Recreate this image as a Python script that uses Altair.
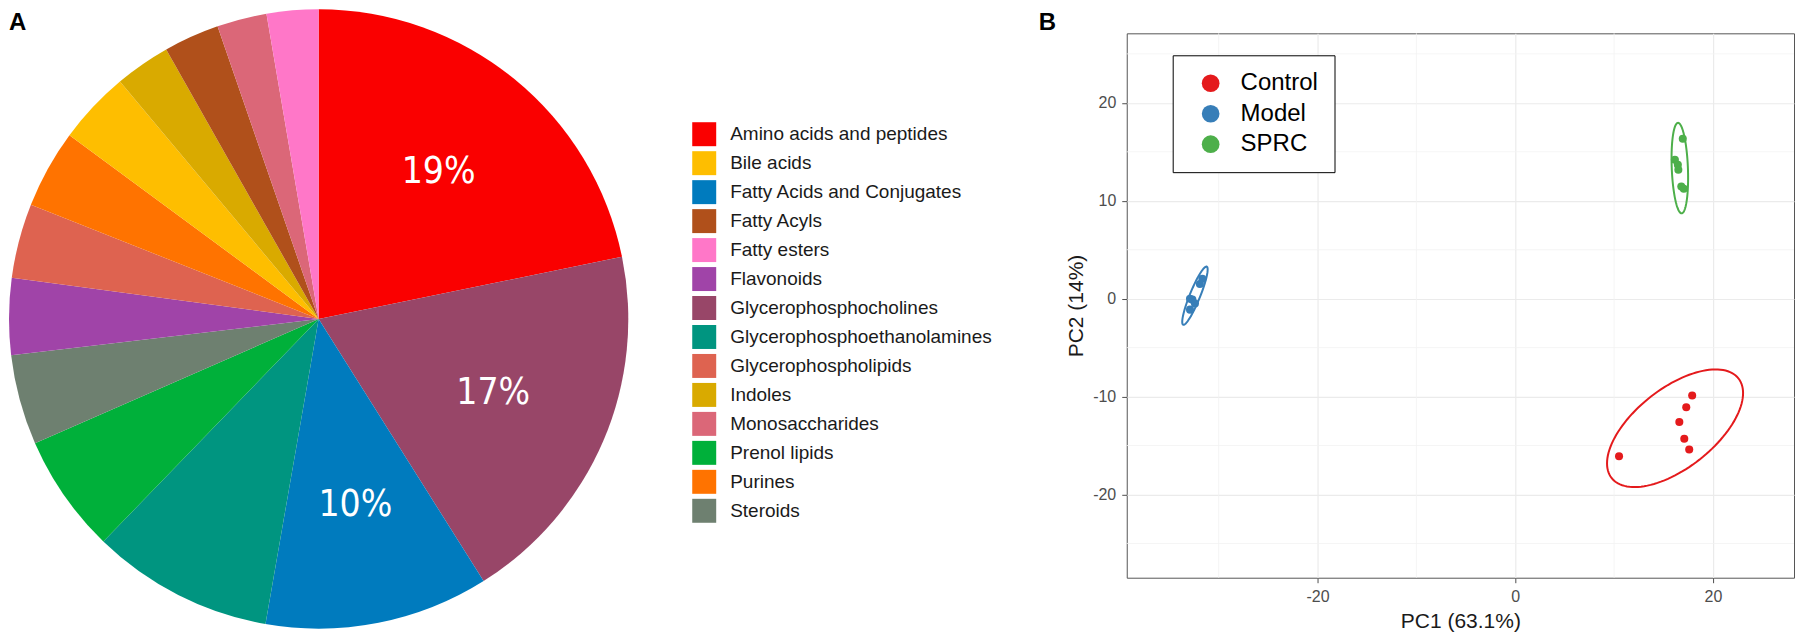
import numpy as np
import pandas as pd
import altair as alt

# ---------------- Panel A data (pie) ----------------
categories = ["Amino acids and peptides", "Bile acids", "Fatty Acids and Conjugates",
              "Fatty Acyls", "Fatty esters", "Flavonoids", "Glycerophosphocholines",
              "Glycerophosphoethanolamines", "Glycerophospholipids", "Indoles",
              "Monosaccharides", "Prenol lipids", "Purines", "Steroids"]
category_colors = ["#FA0000", "#FEBE00", "#007BBE", "#B0501B", "#FF77C8", "#A044A8",
                   "#984668", "#009580", "#DE6350", "#D9AA00", "#DB6778", "#00B03A",
                   "#FF7300", "#6E8070"]

# slices clockwise from 12 o'clock, share of the circle (%)
slice_order = ["Amino acids and peptides", "Glycerophosphocholines", "Fatty Acids and Conjugates",
               "Glycerophosphoethanolamines", "Prenol lipids", "Steroids", "Flavonoids",
               "Glycerophospholipids", "Purines", "Bile acids", "Indoles", "Fatty Acyls",
               "Monosaccharides", "Fatty esters"]
slice_share = [21.8, 19.3, 11.7, 9.5, 6.2, 4.7, 4.0, 3.9, 4.1, 3.8, 2.9, 2.9, 2.6, 2.7]
slice_labels = ["19%", "17%", "10%", "", "", "", "", "", "", "", "", "", "", ""]

# ---------------- Panel B data (PCA scores) ----------------
groups = ["Control", "Model", "SPRC"]
group_colors = ["#E41A1C", "#377EB8", "#4DAF4A"]
control_pc1 = [17.9, 17.3, 16.6, 17.1, 17.6, 10.5]
control_pc2 = [-9.9, -11.1, -12.6, -14.3, -15.4, -16.1]
model_pc1 = [-31.65, -31.9, -32.9, -32.66, -32.4, -32.9]
model_pc2 = [2.04, 1.5, 0.0, -0.1, -0.5, -1.12]
sprc_pc1 = [16.95, 16.15, 16.45, 16.5, 16.8, 17.05]
sprc_pc2 = [16.33, 14.18, 13.67, 13.16, 11.46, 11.22]

x_major = [-20, 0, 20]
x_minor = [-30, -10, 10]
y_major = [-20, -10, 0, 10, 20]
y_minor = [-25, -15, -5, 5, 15, 25]

# ---------------- Panel A ----------------
pie_df = pd.DataFrame({"category": slice_order, "share": slice_share,
                       "label": slice_labels, "ord": list(range(len(slice_order)))})

theta = alt.Theta("share:Q", stack=True)
order = alt.Order("ord:Q", sort="ascending")

arcs = alt.Chart(pie_df).mark_arc(outerRadius=310).encode(
    theta=theta,
    order=order,
    x=alt.value(310), y=alt.value(286),
    color=alt.Color("category:N",
                    scale=alt.Scale(domain=categories, range=category_colors),
                    legend=alt.Legend(title=None, orient="none", legendX=684, legendY=89,
                                      direction="vertical", symbolType="square",
                                      symbolSize=576, symbolStrokeWidth=0,
                                      labelFontSize=19, labelColor="#1a1a1a",
                                      labelFont="Liberation Sans, Arial, Helvetica, sans-serif",
                                      labelOffset=14, rowPadding=5, labelLimit=500, padding=0)),
)
pie_text = alt.Chart(pie_df).mark_text(radius=190, fontSize=37, color="white",
                                       font="Liberation Sans Narrow, DejaVu Sans Condensed, sans-serif").encode(
    theta=theta, order=order,
    x=alt.value(310), y=alt.value(286),
    text="label:N",
)
tag_a = alt.Chart(pd.DataFrame({"t": ["A"]})).mark_text(
    align="left", baseline="top", fontSize=24, fontWeight="bold", font="Liberation Sans",
    color="black").encode(x=alt.value(0), y=alt.value(-22), text="t:N")

panel_a = alt.layer(arcs, pie_text, tag_a).properties(
    width=1020, height=596, view=alt.ViewBackground(stroke="transparent"))

# ---------------- Panel B ----------------
rows = []
for g, xs, ys in [("Control", control_pc1, control_pc2), ("Model", model_pc1, model_pc2),
                  ("SPRC", sprc_pc1, sprc_pc2)]:
    for a, b in zip(xs, ys):
        rows.append({"group": g, "pc1": a, "pc2": b})
pts_df = pd.DataFrame(rows)


def conf_ellipse(df, n=121):
    out = []
    for g, sub in df.groupby("group"):
        p = sub[["pc1", "pc2"]].to_numpy()
        mu = p.mean(axis=0)
        cov = np.cov(p, rowvar=False)
        L = np.linalg.cholesky(cov)
        r = np.sqrt(5.991)  # 95% chi-square, 2 df
        t = np.linspace(0, 2 * np.pi, n)
        circ = np.column_stack([np.cos(t), np.sin(t)])
        e = mu + r * circ @ L.T
        for i, (a, b) in enumerate(e):
            out.append({"group": g, "pc1": a, "pc2": b, "idx": i})
    return pd.DataFrame(out)


ell_df = conf_ellipse(pts_df)

xs = alt.Scale(domain=[-39.3, 28.2], nice=False, zero=False)
ys = alt.Scale(domain=[-28.5, 27.1], nice=False, zero=False)
axis_common = dict(grid=True, gridColor="#EBEBEB", gridWidth=1.2, domain=False,
                   tickColor="#4D4D4D", tickSize=5, labelColor="#4D4D4D", labelFontSize=16,
                   labelFont="Liberation Sans", labelPadding=6, titleFontSize=21,
                   titleFontWeight="normal", titleColor="#1a1a1a", titleFont="Liberation Sans",
                   titlePadding=6, labelExpr="toString(datum.value)")
X = alt.X("pc1:Q", scale=xs, axis=alt.Axis(values=x_major, title="PC1 (63.1%)", **axis_common))
Y = alt.Y("pc2:Q", scale=ys, axis=alt.Axis(values=y_major, title="PC2 (14%)", **axis_common))

minor_x = alt.Chart(pd.DataFrame({"pc1": x_minor})).mark_rule(color="#F3F3F3", strokeWidth=0.8).encode(x=X)
minor_y = alt.Chart(pd.DataFrame({"pc2": y_minor})).mark_rule(color="#F3F3F3", strokeWidth=0.8).encode(y=Y)

cscale = alt.Scale(domain=groups, range=group_colors)
ellipses = alt.Chart(ell_df).mark_line(strokeWidth=2).encode(
    x=X, y=Y, detail="group:N", order="idx:Q",
    stroke=alt.Stroke("group:N", scale=cscale, legend=None))
points = alt.Chart(pts_df).mark_circle(size=65, opacity=1).encode(
    x=X, y=Y,
    color=alt.Color("group:N", scale=cscale,
                    legend=alt.Legend(title=None, orient="none", legendX=46, legendY=22,
                                      direction="vertical", symbolType="circle",
                                      symbolSize=314, symbolStrokeWidth=0, labelFontSize=24,
                                      labelFont="Liberation Sans", labelColor="black",
                                      labelOffset=18, rowPadding=6.5, padding=16,
                                      symbolOffset=10, strokeColor="black",
                                      fillColor="white")))
tag_b = alt.Chart(pd.DataFrame({"t": ["B"]})).mark_text(
    align="left", baseline="top", fontSize=24, fontWeight="bold", font="Liberation Sans",
    color="black").encode(x=alt.value(-88), y=alt.value(-22), text="t:N")

panel_b = alt.layer(minor_x, minor_y, ellipses, points, tag_b).properties(
    width=668, height=545, view=alt.ViewBackground(stroke="#555555", strokeWidth=1))

chart = alt.hconcat(panel_a, panel_b, spacing=9).resolve_scale(color="independent").properties(
    padding=0, background="white")

chart.save("out.html", embed_options={"renderer": "svg", "actions": False})
